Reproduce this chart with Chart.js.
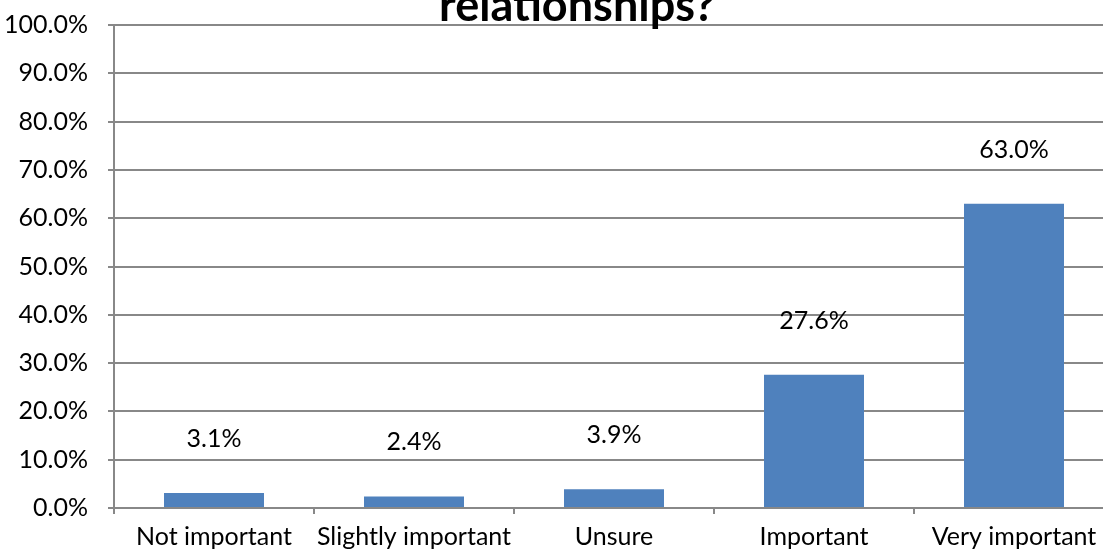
<!DOCTYPE html>
<html>
<head>
<meta charset="utf-8">
<script src="https://cdn.jsdelivr.net/npm/chart.js@4/dist/chart.umd.min.js"></script>
<style>
  html, body { margin: 0; padding: 0; background: #fff; overflow: hidden; }
  #wrap { position: relative; width: 1154px; height: 553px; }
</style>
</head>
<body>
<div id="wrap"><canvas id="chart"></canvas></div>
<script>
// หมวดคำตอบและสัดส่วน (%)
const categories = ['Not important', 'Slightly important', 'Unsure', 'Important', 'Very important'];
const percents = [3.1, 2.4, 3.9, 27.6, 63.0];
const titleText = 'relationships?';
const yTicks = { min: 0, max: 100, step: 10 };

const GRID = '#888888';
const BAR = '#4f81bd';
const FONT = 'Lato, "Open Sans", sans-serif';

// ชื่อกราฟ — บรรทัดบนถูกตัดออกจากภาพ เหลือเพียงบรรทัดสุดท้าย
const titlePlugin = {
  id: 'cutTitle',
  afterDraw(chart) {
    const ctx = chart.ctx;
    ctx.save();
    ctx.font = 'bold 45px ' + FONT;
    ctx.fillStyle = '#000';
    ctx.textAlign = 'center';
    ctx.textBaseline = 'alphabetic';
    ctx.fillText(titleText, chart.width / 2, chart.chartArea.top - 4);
    ctx.restore();
  }
};

// ป้ายค่าเหนือแท่ง
const valueLabels = {
  id: 'valueLabels',
  afterDatasetsDraw(chart) {
    const ctx = chart.ctx;
    const meta = chart.getDatasetMeta(0);
    ctx.save();
    ctx.font = '25px ' + FONT;
    ctx.fillStyle = '#000';
    ctx.textAlign = 'center';
    ctx.textBaseline = 'middle';
    meta.data.forEach((bar, i) => {
      ctx.fillText(percents[i].toFixed(1) + '%', bar.x, bar.y - 54);
    });
    ctx.restore();
  }
};

new Chart(document.getElementById('chart'), {
  type: 'bar',
  data: {
    labels: categories,
    datasets: [{
      data: percents,
      backgroundColor: BAR,
      borderWidth: 0,
      categoryPercentage: 1.0,
      barPercentage: 0.5
    }]
  },
  options: {
    responsive: true, maintainAspectRatio: false, animation: false,
    layout: { padding: { top: 25, right: 40, bottom: 0, left: 0 } },
    plugins: { legend: { display: false }, tooltip: { enabled: false } },
    scales: {
      x: {
        afterFit: s => { s.height = 45; s.paddingLeft = 0; s.paddingRight = 0; },
        grid: { offset: true, drawOnChartArea: false, color: GRID, lineWidth: 2, tickLength: 6 },
        border: { color: GRID, width: 2 },
        ticks: { color: '#000', font: { family: FONT, size: 25 }, padding: 8, maxRotation: 0 }
      },
      y: {
        min: yTicks.min, max: yTicks.max,
        afterFit: s => { s.width = 114; s.paddingTop = 0; s.paddingBottom = 0; },
        grid: { color: GRID, lineWidth: 2, tickLength: 6 },
        border: { color: GRID, width: 2 },
        ticks: {
          stepSize: yTicks.step, color: '#000', padding: 20,
          font: { family: FONT, size: 25 },
          callback: v => v.toFixed(1) + '%'
        }
      }
    }
  },
  plugins: [titlePlugin, valueLabels]
});
</script>
</body>
</html>
